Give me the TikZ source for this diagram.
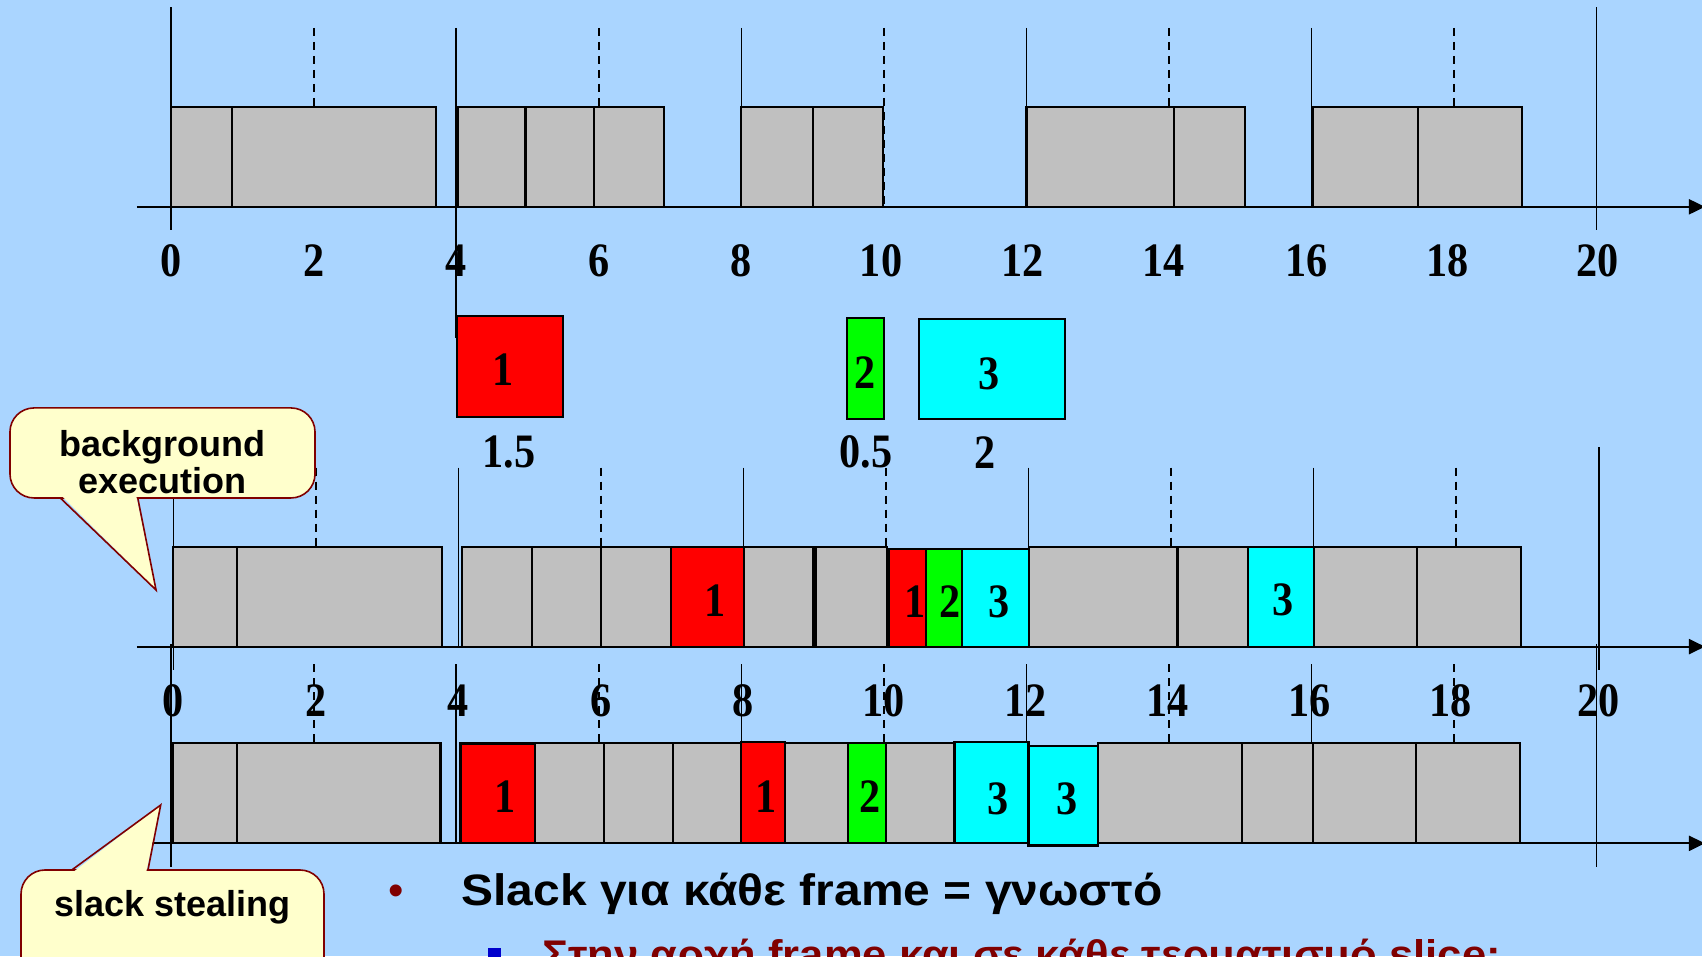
\documentclass[tikz,border=0pt]{standalone}
\usepackage{fontspec}
\setmainfont{Liberation Serif}
\setsansfont{Liberation Sans}
\newfontfamily\numfont[FakeStretch=0.88]{Liberation Serif}
\newfontfamily\slidefont[FakeStretch=1.09]{Liberation Sans}
\usetikzlibrary{arrows.meta}

\definecolor{slidebg}{RGB}{170,213,255}
\definecolor{slotgray}{RGB}{192,192,192}
\definecolor{jobred}{RGB}{255,0,0}
\definecolor{jobgreen}{RGB}{0,255,0}
\definecolor{jobcyan}{RGB}{0,255,255}
\definecolor{notered}{RGB}{128,0,0}
\definecolor{noteyellow}{RGB}{255,255,204}
\definecolor{bulletblue}{RGB}{0,0,204}

\begin{document}
\begin{tikzpicture}[
				x=1.2526cm, y=1.2526cm,
				axis/.style={line width=1.1pt, -{Triangle[length=8pt,width=7.5pt]}},
				tick/.style={line width=0.8pt},
				halftick/.style={line width=0.8pt, dash pattern=on 4pt off 3pt},
				slot/.style={draw=black, line width=1.1pt, fill=slotgray},
				jobA/.style={slot, fill=jobred},
				jobB/.style={slot, fill=jobgreen},
				jobC/.style={slot, fill=jobcyan},
				num/.style={font=\numfont\bfseries\fontsize{24}{24}\selectfont, inner sep=0pt},
				note/.style={draw=notered, fill=noteyellow, line width=0.8pt},
				notetext/.style={font=\sffamily\bfseries\fontsize{18}{18.5}\selectfont, align=center, inner sep=0pt}
				]
				% Slide background
				\useasboundingbox (-2.402,-10.512) rectangle (21.479,2.902);
				\clip (-2.402,-10.512) rectangle (21.479,2.902);
				\fill[slidebg] (-2.402,-10.512) rectangle (21.479,2.902);
				
				% Frames without aperiodic jobs
				\draw[tick] (0,2.8) -- (0,-0.33) (20,2.8) -- (20,-0.33);
				\draw[tick] (4,2.51) -- (4,-1.84);
				\foreach \t in {8,12,16} \draw[tick] (\t,2.51) -- (\t,0);
				\foreach \t in {2,6,14,18} \draw[halftick] (\t,2.51) -- (\t,1.4);
				\draw[halftick] (10,2.51) -- (10,0);
				\draw[axis] (-0.48,0) -- (21.52,0);
				\foreach \a/\b in {0/0.85, 0.85/3.72, 4.02/4.97, 4.97/5.93, 5.93/6.91, 8/9, 9/9.99,
					12/14.07, 14.07/15.07, 16.02/17.49, 17.49/18.95}
					\draw[slot] (\a,0) rectangle (\b,1.4);
				\foreach \t/\x in {0/0, 2/2, 4/4, 6/6, 8/8, 10/9.96, 12/11.95, 14/13.93, 16/15.93, 18/17.91, 20/20.01}
					\node[num] (ta\t) at (\x,-0.76) {\t};
				
				% Aperiodic jobs
				\draw[jobA] (4.01,-2.95) rectangle (5.5,-1.53);
				\draw[jobB] (9.48,-2.98) rectangle (10,-1.565);
				\draw[jobC] (10.49,-2.98) rectangle (12.54,-1.575);
				\node[num] (j1) at (4.66,-2.29) {1};
				\node[num] (j2) at (9.73,-2.33) {2};
				\node[num] (j3) at (11.48,-2.35) {3};
				\node[num] (e1) at (4.74,-3.44) {1.5};
				\node[num] (e2) at (9.75,-3.44) {0.5};
				\node[num] (e3) at (11.42,-3.45) {2};
				
				% Background execution
				\begin{scope}[shift={(0.03,-6.171)}]
					\draw[tick] (0,2.8) -- (0,-0.33) (20,2.8) -- (20,-0.33);
					\foreach \t in {4,8,12,16} \draw[tick] (\t,2.51) -- (\t,0);
					\foreach \t in {2,6,10,14,18} \draw[halftick] (\t,2.51) -- (\t,1.4);
					\draw[axis] (-0.51,0) -- (21.49,0);
					\foreach \a/\b in {0/0.89, 0.89/3.77, 4.05/5.03, 5.03/6, 6/6.98, 8.01/8.98, 9.01/10.01,
						12.01/14.09, 14.09/15.08, 16.01/17.45, 17.45/18.91}
						\draw[slot] (\a,0) rectangle (\b,1.4);
					\draw[jobA] (6.98,0) rectangle (8.01,1.4);
					\draw[jobA] (10.04,0) rectangle (10.56,1.37);
					\draw[jobB] (10.56,0) rectangle (11.07,1.37);
					\draw[jobC] (11.07,0) rectangle (12.01,1.37);
					\draw[jobC] (15.08,0) rectangle (16.01,1.4);
					\node[num] (b1) at (7.6,0.65) {1};
					\node[num] (b2) at (10.41,0.63) {1};
					\node[num] (b3) at (10.9,0.63) {2};
					\node[num] (b4) at (11.59,0.63) {3};
					\node[num] (b5) at (15.57,0.65) {3};
					\foreach \t/\x in {0/0, 2/2, 4/4, 6/6, 8/8, 10/9.97, 12/11.96, 14/13.95, 16/15.94, 18/17.92, 20/20}
						\node[num] (tb\t) at (\x,-0.76) {\t};
				\end{scope}
				
				% Slack stealing
				\begin{scope}[shift={(0,-8.931)}]
					\draw[tick] (0,2.8) -- (0,-0.33) (20,2.8) -- (20,-0.33);
					\foreach \t in {4,8,12,16} \draw[tick] (\t,2.51) -- (\t,0);
					\foreach \t in {2,6,10,14,18} \draw[halftick] (\t,2.51) -- (\t,1.4);
					\draw[axis] (-0.48,0) -- (21.52,0);
					\foreach \a/\b in {0.03/0.92, 0.92/3.78, 5.1/6.07, 6.07/7.04, 7.04/8, 8.61/9.5, 10.03/10.99,
						13/15.03, 15.03/16.02, 16.02/17.47, 17.47/18.93}
						\draw[slot] (\a,0) rectangle (\b,1.41);
					\draw[jobA] (4.06,0) rectangle (5.1,1.4);
					\draw[jobA] (8,0) rectangle (8.61,1.42);
					\draw[jobB] (9.5,0) rectangle (10.03,1.41);
					\draw[jobC] (10.99,0) rectangle (12.03,1.42);
					\draw[jobC] (12.03,-0.03) rectangle (13,1.37);
					\node[num] (c1) at (4.68,0.65) {1};
					\node[num] (c2) at (8.35,0.65) {1};
					\node[num] (c3) at (9.8,0.65) {2};
					\node[num] (c4) at (11.6,0.63) {3};
					\node[num] (c5) at (12.57,0.63) {3};
				\end{scope}
				
				% Callouts
				\draw[note, rounded corners=12pt] (-2.262,-4.085) rectangle (2.018,-2.822);
				\fill[noteyellow] (-1.53,-4.06) -- (-0.212,-5.377) -- (-0.49,-4.06) -- cycle;
				\draw[notered, line width=0.8pt] (-1.556,-4.085) -- (-0.212,-5.377) -- (-0.469,-4.085);
				\node[notetext] (bgnote) at (-0.12,-3.58) {background\\execution};
				
				\draw[note, rounded corners=12pt] (-2.107,-11.2) rectangle (2.144,-9.305);
				\fill[noteyellow] (-1.37,-9.33) -- (-0.147,-8.393) -- (-0.35,-9.33) -- cycle;
				\draw[notered, line width=0.8pt] (-1.395,-9.305) -- (-0.147,-8.393) -- (-0.326,-9.305);
				\node[notetext] (ssnote) at (0.014,-9.83) {slack stealing};
				
				% Bullet text
				\node[anchor=base, inner sep=0pt, text=notered, font=\sffamily\fontsize{22}{22}\selectfont] (dot) at (3.153,-9.8) {•};
				\node[anchor=base west, inner sep=0pt, font=\slidefont\bfseries\fontsize{22}{22}\selectfont] (line1) at (4.07,-9.8) {Slack για κάθε frame = γνωστό};
				\fill[bulletblue] (4.45,-10.58) rectangle (4.63,-10.4);
				\node[anchor=base west, inner sep=0pt, text=notered, font=\slidefont\bfseries\fontsize{20}{20}\selectfont] (line2) at (5.21,-10.69) {Στην αρχή frame και σε κάθε τερματισμό slice:};
			\end{tikzpicture}
\end{document}
